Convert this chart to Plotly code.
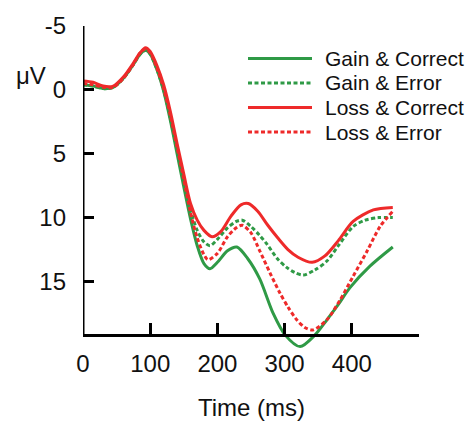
import plotly.graph_objects as go

# ---- data ----
gc_t = [0, 15, 30, 45, 60, 75, 85, 93, 100, 110, 120, 130, 140, 150, 160, 170, 180, 189, 200, 215, 229, 245, 263, 283, 301, 323, 345, 363, 380, 397, 427, 461]
gc_v = [-0.4, -0.3, -0.1, -0.2, -0.9, -2.0, -2.8, -3.1, -2.8, -1.6, 0.1, 2.4, 5.0, 7.6, 10.1, 12.2, 13.6, 14.0, 13.5, 12.6, 12.3, 13.2, 14.8, 17.5, 19.2, 20.1, 19.2, 18.0, 16.8, 15.5, 13.8, 12.3]

ge_t = [0, 15, 30, 45, 60, 75, 85, 93, 100, 110, 120, 130, 140, 150, 160, 170, 180, 189, 200, 215, 228, 237, 250, 263, 274, 289, 303, 315, 328, 345, 363, 380, 402, 420, 440, 461]
ge_v = [-0.4, -0.3, -0.1, -0.2, -0.9, -2.0, -2.8, -3.1, -2.8, -1.6, 0.0, 2.2, 4.7, 7.2, 9.4, 11.0, 11.9, 12.2, 11.7, 10.8, 10.3, 10.2, 10.7, 11.4, 12.1, 13.2, 13.9, 14.3, 14.5, 14.1, 13.4, 12.2, 10.7, 10.2, 10.0, 10.0]

lc_t = [0, 15, 30, 45, 60, 75, 85, 93, 100, 110, 120, 130, 140, 150, 160, 170, 180, 192, 205, 220, 235, 246, 260, 275, 290, 305, 320, 341, 360, 380, 402, 432, 461]
lc_v = [-0.7, -0.6, -0.3, -0.3, -1.0, -2.1, -2.9, -3.3, -3.0, -1.9, -0.4, 1.7, 4.2, 6.6, 8.9, 10.2, 11.0, 11.5, 11.1, 9.9, 9.0, 8.9, 9.5, 10.6, 11.6, 12.5, 13.1, 13.5, 13.0, 11.8, 10.3, 9.4, 9.2]

le_t = [0, 15, 30, 45, 60, 75, 85, 93, 100, 110, 120, 130, 140, 150, 160, 170, 180, 186, 200, 215, 228, 237, 250, 263, 278, 293, 305, 318, 330, 342, 363, 382, 402, 423, 442, 461]
le_v = [-0.5, -0.4, -0.2, -0.2, -0.9, -2.0, -2.9, -3.2, -2.9, -1.7, -0.1, 2.0, 4.5, 7.0, 9.6, 11.6, 12.9, 13.3, 12.8, 11.5, 10.8, 10.6, 11.2, 12.6, 14.3, 15.9, 17.0, 18.0, 18.6, 18.8, 18.0, 16.5, 14.6, 12.6, 10.7, 9.5]

series_names = ["Gain & Correct", "Gain & Error", "Loss & Correct", "Loss & Error"]
x_tickvals = [0, 100, 200, 300, 400]
x_ticktext = ["0", "100", "200", "300", "400"]
y_tickvals = [-5, 0, 5, 10, 15]
y_ticktext = ["-5", "0", "5", "10", "15"]
x_title = "Time (ms)"
y_unit = "μV"

# ---- styles ----
GREEN = "#2f9a46"
RED = "#ee2a2a"
DOT = "4px,2.5px"
FONT = "Liberation Sans, Arial, sans-serif"
series = [
    (gc_t, gc_v, GREEN, "solid"),
    (ge_t, ge_v, GREEN, DOT),
    (lc_t, lc_v, RED, "solid"),
    (le_t, le_v, RED, DOT),
]

Y_MIN, Y_AXIS, Y_MAX = -5, 19.2, 20.6
X_MAX = 500

fig = go.Figure()
for (t, v, c, d), name in zip(series, series_names):
    fig.add_trace(go.Scatter(x=t, y=v, mode="lines", name=name,
                             line=dict(color=c, width=3, dash=d, shape="spline", smoothing=0.8),
                             showlegend=False))

W, H = 467, 421
ml, mr, mt, mb = 83, 48, 20, 68
ph = H - mt - mb
pw = W - ml - mr
x_pos = (Y_MAX - Y_AXIS) / (Y_MAX - Y_MIN)

fig.update_layout(
    width=W, height=H,
    margin=dict(l=ml, r=mr, t=mt, b=mb),
    paper_bgcolor="white", plot_bgcolor="white",
    font=dict(family=FONT, size=24, color="#111"),
    xaxis=dict(range=[0, X_MAX], anchor="free", position=x_pos,
               showline=True, linecolor="black", linewidth=3,
               ticks="inside", ticklen=11, tickwidth=3, tickcolor="black",
               tickvals=x_tickvals, ticktext=x_ticktext, ticklabelstandoff=6,
               showgrid=False, zeroline=False),
    yaxis=dict(range=[Y_MAX, Y_MIN], showline=False,
               ticks="inside", ticklen=11, tickwidth=3, tickcolor="black",
               tickvals=y_tickvals, ticktext=y_ticktext, ticklabelstandoff=16,
               showgrid=False, zeroline=False),
)

# y axis line from -5 down to the x axis
fig.add_shape(type="line", xref="x", yref="y", x0=0, x1=0, y0=Y_MIN, y1=Y_AXIS,
              line=dict(color="black", width=3))

def px_to_paper(px, py):
    return (px - ml) / pw, (H - mb - py) / ph

# axis title and unit
tx, ty = px_to_paper(251, 408)
fig.add_annotation(text=x_title, xref="paper", yref="paper", x=tx, y=ty,
                   showarrow=False, font=dict(size=24), xanchor="center", yanchor="middle")
ux, uy = px_to_paper(31, 70)
fig.add_annotation(text=y_unit, xref="paper", yref="paper", x=ux, y=uy,
                   showarrow=False, font=dict(size=24), xanchor="center", yanchor="middle")

# manual legend
rows_py = [53, 78, 103, 128]
for (t, v, c, d), name, py in zip(series, series_names, rows_py):
    x0, y0 = px_to_paper(248, py)
    x1, _ = px_to_paper(312, py)
    fig.add_shape(type="line", xref="paper", yref="paper", x0=x0, x1=x1, y0=y0, y1=y0,
                  line=dict(color=c, width=3, dash=d))
    lx, _ = px_to_paper(323, py)
    fig.add_annotation(text=name, xref="paper", yref="paper", x=lx, y=y0,
                       showarrow=False, xanchor="left", yanchor="middle",
                       font=dict(size=21, color="#111"))

fig.write_html("out.html", config={"displayModeBar": False},
               post_script="document.body.style.margin='0';document.body.style.overflow='hidden';")
